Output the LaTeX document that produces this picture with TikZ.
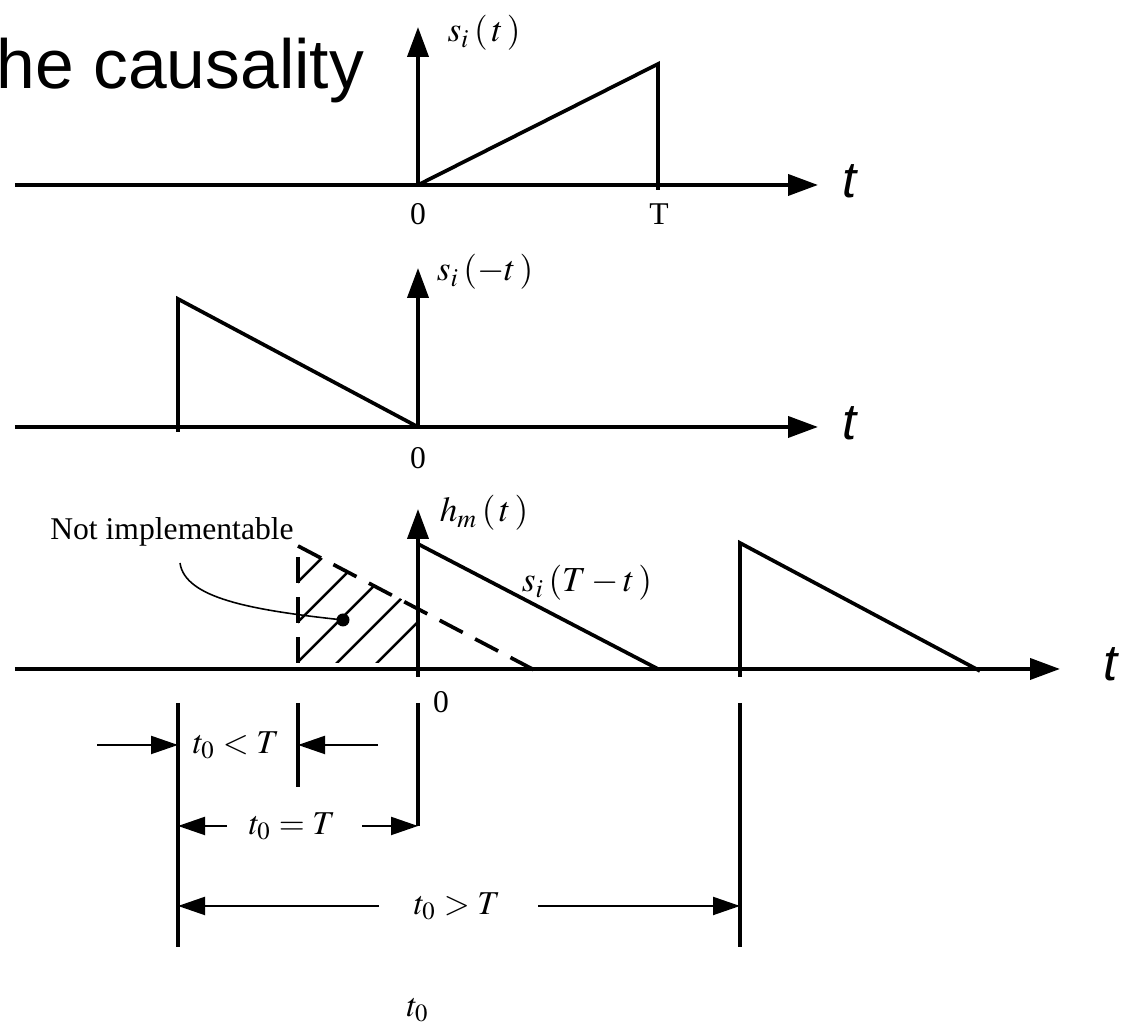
\documentclass[tikz,border=0pt]{standalone}
\usepackage{mathptmx}
\usepackage{fontspec}
\setmainfont{Liberation Serif}
\newfontfamily\arialfont{Liberation Sans}
\usetikzlibrary{arrows.meta,calc}

\begin{document}
\begin{tikzpicture}[>={Triangle[length=0.30cm,width=0.21cm]}]
	\tikzstyle{axis}=[line width=1.1pt,->]
	\tikzstyle{pulse}=[line width=1.05pt,line join=miter]
	\tikzstyle{ghost}=[line width=1.05pt,dash pattern=on 0.26cm off 0.14cm]
	\tikzstyle{dimline}=[line width=0.95pt]
	\tikzstyle{dimarrow}=[line width=0.6pt,-{Triangle[length=0.27cm,width=0.18cm]}]
	\tikzstyle{hatch}=[line width=0.7pt]
	\tikzstyle{lbl}=[inner sep=0pt,font=\fontsize{10}{12}\selectfont]
	\tikzstyle{dimlbl}=[inner sep=0pt,font=\fontsize{9.5}{11}\selectfont]
	\tikzstyle{tick}=[inner sep=0pt,font=\fontsize{9}{11}\selectfont]
	\tikzstyle{taxis}=[inner sep=0pt,font=\arialfont\itshape\fontsize{14.5}{16}\selectfont]

	\useasboundingbox (0,0) rectangle (11.28,10.29);

	\node (title) [anchor=base west,inner sep=0pt,font=\arialfont\fontsize{19.8}{22}\selectfont] at (-0.04,9.40) {he causality};

	% s_i(t)
	\coordinate (O1) at (4.18,8.44);
	\draw [axis] (0.15,8.44) -- (8.18,8.44);
	\draw [axis] (O1) -- (4.18,10.02);
	\draw [pulse] (O1) -- (6.58,9.65) -- (6.58,8.39);
	\node (s1) [lbl] at (4.84,9.96) {$s_i\,(\mkern2mu t\mkern2mu)$};
	\node (z1) [tick] at (4.18,8.15) {0};
	\node (T1) [tick] at (6.59,8.15) {T};
	\node (t1) [taxis] at (8.50,8.48) {t};

	% s_i(-t)
	\coordinate (O2) at (4.18,6.02);
	\draw [axis] (0.15,6.02) -- (8.18,6.02);
	\draw [axis] (O2) -- (4.18,7.61);
	\draw [pulse] (1.78,5.97) -- (1.78,7.30) -- (O2);
	\node (s2) [lbl] at (4.85,7.57) {$s_i\,(-t\mkern2mu)$};
	\node (z2) [tick] at (4.18,5.71) {0};
	\node (t2) [taxis] at (8.50,6.06) {t};

	% h_m(t)
	\coordinate (O3) at (4.18,3.60);
	\draw [axis] (0.15,3.60) -- (10.60,3.60);
	\draw [axis] (4.18,3.52) -- (4.18,5.20);
	\draw [pulse] (4.18,4.85) -- (6.58,3.60);
	\draw [pulse] (7.40,3.52) -- (7.40,4.86) -- (9.80,3.58);
	\draw [ghost] (2.98,3.66) -- (2.98,4.83);
	\draw [ghost] (2.98,4.83) -- (5.38,3.57);
	\begin{scope}
		\clip (2.98,3.66) -- (2.98,4.83) -- (4.18,4.215) -- (4.18,3.66) -- cycle;
		\foreach \d in {1.49,1.09,0.69,0.29,-0.11}
			\draw [hatch] (2.5,2.5+\d) -- (4.5,4.5+\d);
	\end{scope}
	\node (hm) [lbl] at (4.84,5.16) {$h_m\,(\mkern2mu t\mkern2mu)$};
	\node (s3) [lbl] at (5.87,4.46) {$s_i\,(T-t\mkern2mu)$};
	\node (z3) [tick] at (4.41,3.27) {0};
	\node (t3) [taxis] at (11.11,3.65) {t};

	\node (notimpl) [tick] at (1.72,4.97) {Not implementable};
	\node (dot) [circle,fill,inner sep=0pt,minimum size=0.13cm] at (3.43,4.09) {};
	\coordinate (lead) at (1.80,4.66);
	\draw [line width=0.45pt] (lead) .. controls (1.85,4.31) and (2.50,4.19) .. (dot.center);

	% delays
	\coordinate (vA) at (1.78,3.26);
	\coordinate (vB) at (2.98,3.26);
	\coordinate (vC) at (4.18,3.26);
	\coordinate (vD) at (7.40,3.26);
	\draw [dimline] (vA) -- ++(0,-2.44);
	\draw [dimline] (vB) -- ++(0,-0.84);
	\draw [dimline] (vC) -- ++(0,-1.23);
	\draw [dimline] (vD) -- ++(0,-2.44);

	\node (ltT) [dimlbl] at (2.36,2.84) {$t_0<T$};
	\node (eqT) [dimlbl] at (2.92,2.03) {$t_0=T$};
	\node (gtT) [dimlbl] at (4.57,1.23) {$t_0>T$};
	\node (tz) [dimlbl] at (4.18,0.19) {$t_0$};

	\draw [dimarrow] ($(vA |- ltT)+(-0.81,0)$) -- (vA |- ltT);
	\draw [dimarrow] ($(vB |- ltT)+(0.80,0)$) -- (vB |- ltT);
	\draw [dimarrow] ($(vA |- eqT)+(0.49,0)$) -- (vA |- eqT);
	\draw [dimarrow] ($(vC |- eqT)+(-0.56,0)$) -- (vC |- eqT);
	\draw [dimarrow] ($(vA |- gtT)+(2.01,0)$) -- (vA |- gtT);
	\draw [dimarrow] ($(vD |- gtT)+(-2.02,0)$) -- (vD |- gtT);
\end{tikzpicture}
\end{document}
